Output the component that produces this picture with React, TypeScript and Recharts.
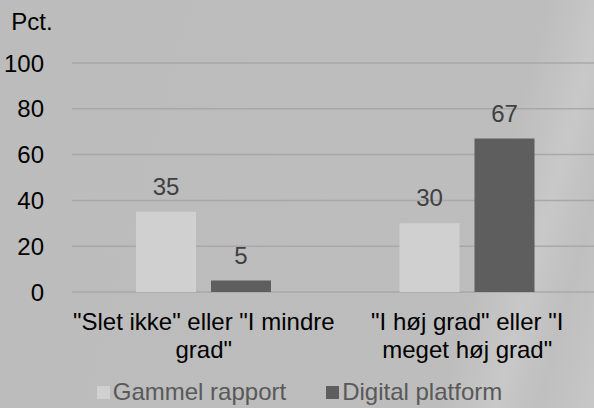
import React from "react";
import { BarChart, Bar, XAxis, YAxis, CartesianGrid, Legend, LabelList } from "recharts";

const categories = ['"Slet ikke" eller "I mindre\ngrad"', '"I høj grad" eller "I\nmeget høj grad"'];
const gammelRapport = [35, 30];
const digitalPlatform = [5, 67];
const yTicks = [0, 20, 40, 60, 80, 100];
const seriesNames = ["Gammel rapport", "Digital platform"];

const FONT = '"Liberation Sans", Arial, sans-serif';
const LIGHT = "#d0d0d0";
const DARK = "#5e5e5e";

const data = categories.map((name, i) => ({
    name,
    gammel: gammelRapport[i],
    digital: digitalPlatform[i],
}));

const CategoryTick = ({ x, y, payload }: any) => {
    const lines = String(payload.value).split("\n");
    return (
        <text x={x} y={y} textAnchor="middle" fill="#000" fontSize={24} fontFamily={FONT}>
            {lines.map((l, i) => (
                <tspan key={i} x={x} dy={i === 0 ? 30 : 28}>
                    {l}
                </tspan>
            ))}
        </text>
    );
};

const LegendContent = ({ payload }: any) => {
    const items = [...(payload || [])].sort(
        (a: any, b: any) => seriesNames.indexOf(a.value) - seriesNames.indexOf(b.value)
    );
    return (
        <div
            style={{
                display: "flex",
                justifyContent: "center",
                alignItems: "center",
                height: 36,
                paddingTop: 4,
                fontFamily: FONT,
                fontSize: 24,
                color: "#595959",
                boxSizing: "border-box",
            }}
        >
            {items.map((p: any, i: number) => (
                <div key={i} style={{ display: "flex", alignItems: "center", marginRight: i === 0 ? 40 : 0 }}>
                    <span style={{ width: 13, height: 13, background: p.color, display: "inline-block", marginRight: 3 }} />
                    <span>{p.value}</span>
                </div>
            ))}
        </div>
    );
};

export default function App() {
    return (
        <div
            style={{
                position: "absolute",
                left: 0,
                top: 0,
                width: 594,
                height: 408,
                overflow: "hidden",
                background:
                    "linear-gradient(105deg, #bcbcbc 0%, #bdbdbd 78%, #c8c8c8 86%, #bfbfbf 92%, #c7c7c7 100%)",
            }}
        >
            <BarChart
                width={594}
                height={408}
                data={data}
                margin={{ top: 63, right: -5, left: 0, bottom: 0 }}
                barSize={60}
                barGap={15}
            >
                <CartesianGrid vertical={false} stroke="#a8a8a8" strokeWidth={1.5} />
                <XAxis
                    dataKey="name"
                    height={80}
                    axisLine={false}
                    tickLine={false}
                    interval={0}
                    tick={<CategoryTick />}
                />
                <YAxis
                    width={72}
                    domain={[0, 100]}
                    ticks={yTicks}
                    axisLine={false}
                    tickLine={false}
                    tickMargin={22}
                    tick={{ fill: "#000", fontSize: 24, fontFamily: FONT }}
                    label={{ value: "Pct.", position: "top", offset: 33, dx: -4, fill: "#000", fontSize: 24, fontFamily: FONT }}
                />
                <Legend verticalAlign="bottom" height={36} content={<LegendContent />} />
                <Bar dataKey="gammel" name={seriesNames[0]} fill={LIGHT} isAnimationActive={false}>
                    <LabelList dataKey="gammel" position="top" offset={17} fill="#404040" fontSize={24} fontFamily={FONT} />
                </Bar>
                <Bar dataKey="digital" name={seriesNames[1]} fill={DARK} isAnimationActive={false}>
                    <LabelList dataKey="digital" position="top" offset={17} fill="#404040" fontSize={24} fontFamily={FONT} />
                </Bar>
            </BarChart>
        </div>
    );
}
